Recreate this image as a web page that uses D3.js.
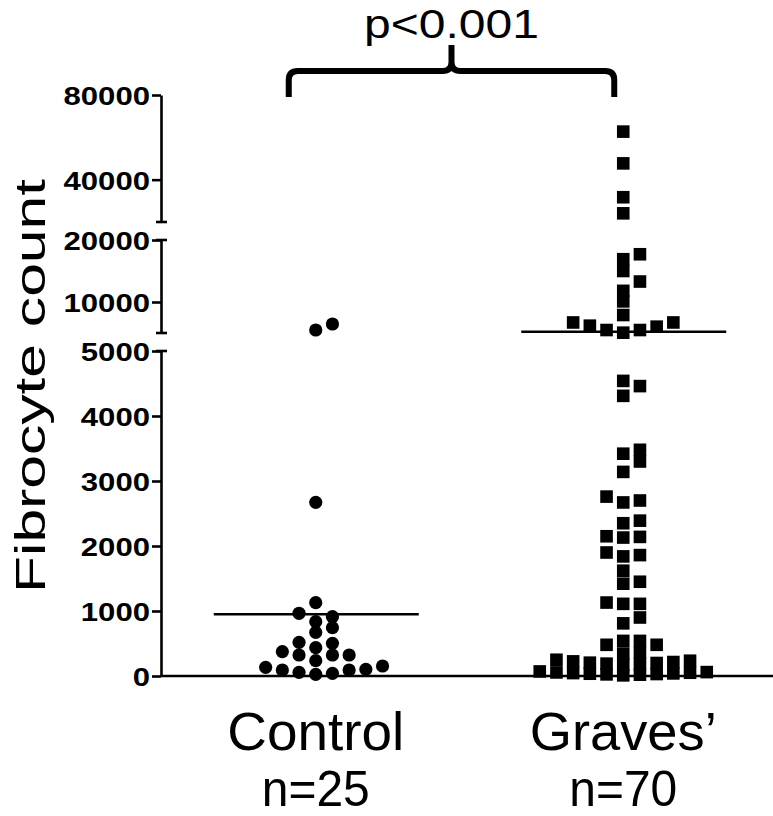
<!DOCTYPE html>
<html><head><meta charset="utf-8">
<script src="https://cdn.jsdelivr.net/npm/d3@7"></script>
<style>body{margin:0;background:#fff}</style>
</head><body>
<svg id="c" width="773" height="816"></svg>
<script>
// ---------- data ----------
const categories = ["Control", "Graves\u2019"];
const groupSizes = ["n=25", "n=70"];
const controlValues = [26, 41, 57, 92, 92, 103, 133, 154, 236, 323, 323, 323, 374, 436, 503, 518,
  672, 743, 836, 912, 965, 1128, 2672, 5480, 6450];
const gravesValues = [62700, 47700, 31700, 24100,
  17700, 16900, 15000, 13300, 11800, 10100, 7900,
  6700, 6180, 5480, 5050, 5480, 6020, 6700,
  4540, 4460, 4310, 3480, 3420, 3300, 3140, 2760, 2700, 2670, 2390, 2350,
  2150, 2140, 2130, 1900, 1860, 1840, 1620, 1450, 1420, 1130, 1110, 1110, 900, 810,
  540, 540, 480, 480, 360, 345,
  10, 20, 25, 30, 35, 40, 45, 50, 55, 60, 70,
  175, 185, 190, 200, 205, 215, 225, 235, 250];
const meanValues = [950, 5210];
const segmentDomains = [[0, 5000], [5000, 20000], [20000, 80000]];
const segmentTicks = [[0, 1000, 2000, 3000, 4000, 5000], [10000, 20000], [40000, 80000]];
const pLabel = "p<0.001";
const yTitle = "Fibrocyte count";

// ---------- layout ----------
const svg = d3.select("#c");
const AX = 161, BASE = 676;
const segRanges = [[676, 351], [333, 240], [222, 95]];
const segScales = segmentDomains.map((d, i) => d3.scaleLinear().domain(d).range(segRanges[i]));
function y(v) {
  for (let i = 0; i < segScales.length; i++) {
    if (v <= segmentDomains[i][1] || i === segScales.length - 1) return segScales[i](v);
  }
}
const x = d3.scalePoint().domain(categories).range([162, 777]).padding(0.5);
const SLOT = 16.7, ROW_T = 10.5;
const black = "#000";
const FONT = "'Liberation Sans', Arial, Helvetica, sans-serif";

// ---------- y axis segments ----------
segScales.forEach((s, i) => {
  const g = svg.append("g").attr("transform", `translate(${AX},0)`)
    .call(d3.axisLeft(s).tickValues(segmentTicks[i]).tickSize(9).tickSizeOuter(0)
      .tickPadding(2).tickFormat(d3.format("d")));
  g.select(".domain").attr("stroke", black).attr("stroke-width", 2.6);
  g.selectAll(".tick line").attr("stroke", black).attr("stroke-width", 2.6);
  g.selectAll(".tick text")
    .attr("font-family", FONT)
    .attr("font-weight", "bold").attr("font-size", 26).attr("fill", black)
    .attr("dy", "0.36em")
    .attr("textLength", d => String(d).length * 17.3)
    .attr("lengthAdjust", "spacingAndGlyphs");
});
// segment caps
const caps = [segScales[0](5000), segScales[1](5000), segScales[1](20000), segScales[2](20000)];
svg.selectAll("line.cap").data(caps).enter().append("line").attr("class", "cap")
  .attr("x1", AX - 5).attr("x2", AX + 6).attr("y1", d => d).attr("y2", d => d)
  .attr("stroke", black).attr("stroke-width", 2.6);

// x axis line
svg.append("line").attr("x1", AX).attr("x2", 773).attr("y1", BASE).attr("y2", BASE)
  .attr("stroke", black).attr("stroke-width", 2.6);

// ---------- y title ----------
svg.append("text").attr("transform", "translate(45,386) rotate(-90)")
  .attr("text-anchor", "middle").attr("font-family", FONT)
  .attr("font-size", 42).attr("textLength", 414).attr("lengthAdjust", "spacingAndGlyphs")
  .text(yTitle);

// ---------- x labels ----------
const labW = [177, 187];
svg.selectAll("text.cat").data(categories).enter().append("text").attr("class", "cat")
  .attr("x", d => x(d)).attr("y", 750).attr("text-anchor", "middle")
  .attr("font-family", FONT).attr("font-size", 53)
  .attr("textLength", (d, i) => labW[i]).attr("lengthAdjust", "spacingAndGlyphs")
  .text(d => d);
svg.selectAll("text.n").data(groupSizes).enter().append("text").attr("class", "n")
  .attr("x", (d, i) => x(categories[i])).attr("y", 806).attr("text-anchor", "middle")
  .attr("font-family", FONT).attr("font-size", 50)
  .attr("textLength", 108).attr("lengthAdjust", "spacingAndGlyphs")
  .text(d => d);

// ---------- mean lines ----------
svg.selectAll("line.mean").data(meanValues).enter().append("line").attr("class", "mean")
  .attr("x1", (d, i) => x(categories[i]) - 102).attr("x2", (d, i) => x(categories[i]) + 103)
  .attr("y1", d => y(d)).attr("y2", d => y(d))
  .attr("stroke", black).attr("stroke-width", 2.6);

// ---------- beeswarm ----------
function swarm(values, cx) {
  const pts = values.map(v => ({ v, py: y(v) })).sort((a, b) => a.v - b.v);
  const rows = []; let cur = null;
  pts.forEach(p => {
    if (!cur || cur[0].py - p.py > ROW_T) { cur = [p]; rows.push(cur); } else cur.push(p);
  });
  rows.forEach(r => r.forEach((p, i) => {
    const k = i === 0 ? 0 : (i % 2 === 1 ? (i + 1) / 2 : -i / 2);
    p.px = cx + k * SLOT;
  }));
  return pts;
}
const cPts = swarm(controlValues, x(categories[0]));
const gPts = swarm(gravesValues, x(categories[1]));
svg.selectAll("circle.ctl").data(cPts).enter().append("circle").attr("class", "ctl")
  .attr("cx", d => d.px).attr("cy", d => d.py).attr("r", 6.6).attr("fill", black);
const SQ = 12.6;
svg.selectAll("rect.grv").data(gPts).enter().append("rect").attr("class", "grv")
  .attr("x", d => d.px - SQ / 2).attr("y", d => d.py - SQ / 2)
  .attr("width", SQ).attr("height", SQ).attr("fill", black);

// ---------- significance brace ----------
const bl = x(categories[0]) - 27, br = x(categories[1]) - 9, bm = (bl + br) / 2;
const by = 71, bLeg = 97, bTip = 45, rr = 9;
const bp = d3.path();
bp.moveTo(bl, bLeg); bp.lineTo(bl, by + rr); bp.quadraticCurveTo(bl, by, bl + rr, by);
bp.lineTo(bm - rr, by); bp.quadraticCurveTo(bm, by, bm, by - rr); bp.lineTo(bm, bTip);
bp.moveTo(bm, bTip); bp.lineTo(bm, by - rr); bp.quadraticCurveTo(bm, by, bm + rr, by);
bp.lineTo(br - rr, by); bp.quadraticCurveTo(br, by, br, by + rr); bp.lineTo(br, bLeg);
svg.append("path").attr("d", bp.toString()).attr("fill", "none")
  .attr("stroke", black).attr("stroke-width", 6);
svg.append("text").attr("x", bm).attr("y", 38).attr("text-anchor", "middle")
  .attr("font-family", FONT).attr("font-size", 40)
  .attr("textLength", 175).attr("lengthAdjust", "spacingAndGlyphs").text(pLabel);
</script>
</body></html>
